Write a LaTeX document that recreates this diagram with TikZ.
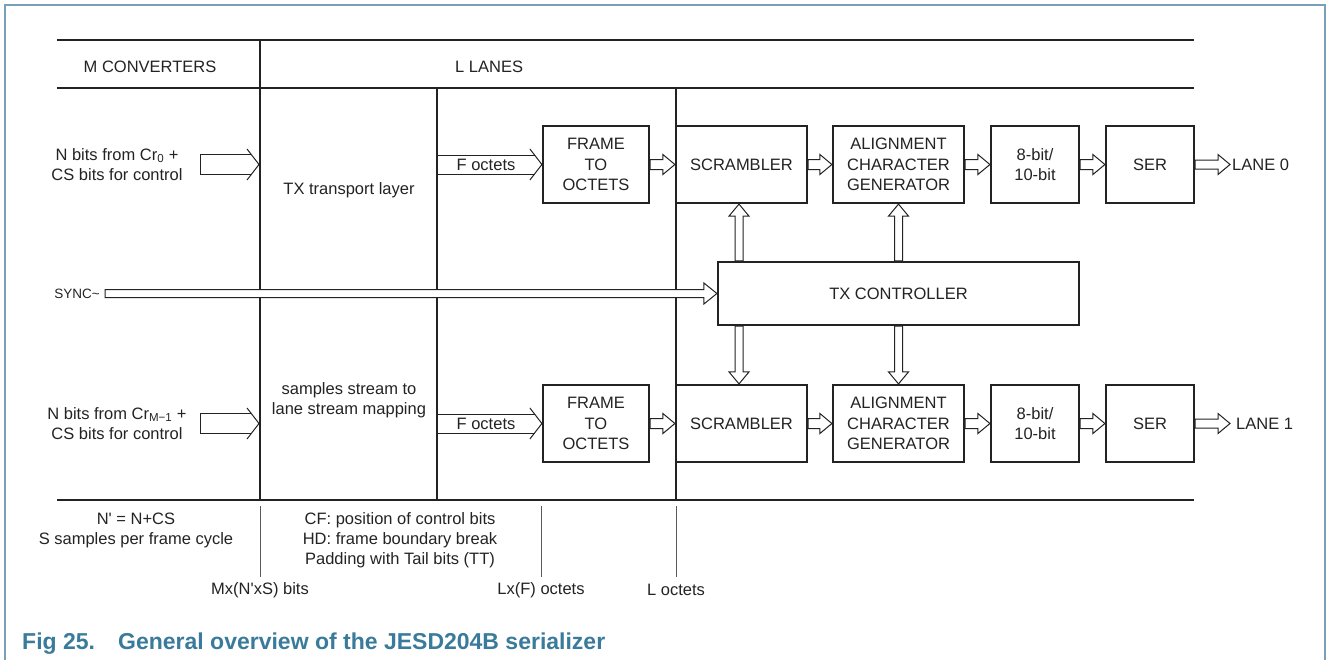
\documentclass[tikz,border=0pt]{standalone}
\usepackage{fontspec}
\newfontfamily\lsans{Liberation Sans}
\usetikzlibrary{calc}
\definecolor{ink}{RGB}{35,35,35}
\definecolor{framec}{RGB}{120,160,185}
\definecolor{capc}{RGB}{58,122,155}
\pgfdeclarelayer{rules}
\pgfdeclarelayer{arrs}
\pgfsetlayers{rules,arrs,main}
\tikzset{
  lbl/.style={font=\lsans\fontsize{16.5}{20}\selectfont, text=ink, inner sep=0pt, align=center},
  lblsmall/.style={font=\lsans\fontsize{13.5}{16}\selectfont, text=ink, inner sep=0pt},
  blk/.style={draw=ink, line width=2.2pt, fill=white, inner sep=0pt, align=center,
              font=\lsans\fontsize{16.5}{20.5}\selectfont, text=ink},
  rule/.style={draw=ink, line width=1.8pt},
  tickl/.style={draw=ink!75, line width=1pt},
  harr/.style={draw=ink, line width=1pt, fill=white, line join=miter},
  harrline/.style={draw=ink, line width=1pt, line join=miter},
  capt/.style={font=\lsans\bfseries\fontsize{23}{27}\selectfont, text=capc, inner sep=0pt},
}
% hollow arrow: from, to, body half width, head half width, head length
\newcommand{\hollowarr}[5]{%
  \coordinate (hA) at (#1);
  \coordinate (hB) at (#2);
  \coordinate (hH) at ($(hB)!#5!(hA)$);
  \path[harr] ($(hA)!#3!90:(hB)$) -- ($(hH)!#3!-90:(hA)$) -- ($(hH)!#4!-90:(hA)$)
     -- (hB) -- ($(hH)!#4!90:(hA)$) -- ($(hH)!#3!90:(hA)$) -- ($(hA)!#3!-90:(hB)$) -- cycle;}
% wide arrow with open chevron head: from, to, body half, head half, head length, body end from tip
\newcommand{\chevarr}[6]{%
  \coordinate (hA) at (#1);
  \coordinate (hB) at (#2);
  \coordinate (hH) at ($(hB)!#5!(hA)$);
  \coordinate (hE) at ($(hB)!#6!(hA)$);
  \path[harr] ($(hE)!#3!-90:(hA)$) -- ($(hA)!#3!90:(hB)$) -- ($(hA)!#3!-90:(hB)$) -- ($(hE)!#3!90:(hA)$);
  \path[harrline] ($(hH)!#4!-90:(hA)$) -- (hB) -- ($(hH)!#4!90:(hA)$);}
\begin{document}
\begin{tikzpicture}[x=1pt,y=-1pt]
\useasboundingbox (0,0) rectangle (1327,659);
% outer frame
\draw[framec, line width=1.3pt] (5,670) -- (5,5) -- (1325,5) -- (1325,670);

% blocks, lane 0
\node[blk, minimum width=106pt, minimum height=77pt] (f0) at (596,164.5) {FRAME\\TO\\OCTETS};
\node[blk, minimum width=131pt, minimum height=77pt] (s0) at (741.5,164.5) {SCRAMBLER};
\node[blk, minimum width=131pt, minimum height=77pt] (a0) at (898.5,164.5) {ALIGNMENT\\CHARACTER\\GENERATOR};
\node[blk, minimum width=88pt, minimum height=77pt] (e0) at (1035,164.5) {8-bit/\\10-bit};
\node[blk, minimum width=88pt, minimum height=77pt] (r0) at (1150,164.5) {SER};
% controller
\node[blk, minimum width=361pt, minimum height=63pt] (tx) at (898.5,293.5) {TX CONTROLLER};
% blocks, lane 1
\node[blk, minimum width=106pt, minimum height=77pt] (f1) at (596,423.5) {FRAME\\TO\\OCTETS};
\node[blk, minimum width=131pt, minimum height=77pt] (s1) at (741.5,423.5) {SCRAMBLER};
\node[blk, minimum width=131pt, minimum height=77pt] (a1) at (898.5,423.5) {ALIGNMENT\\CHARACTER\\GENERATOR};
\node[blk, minimum width=88pt, minimum height=77pt] (e1) at (1035,423.5) {8-bit/\\10-bit};
\node[blk, minimum width=88pt, minimum height=77pt] (r1) at (1150,423.5) {SER};

% labels
\node[lbl] (mconv) at (150,67) {M CONVERTERS};
\node[lbl, anchor=west] (llanes) at (455,67) {L LANES};
\node[lbl] (nb0) at (117,164.5) {N bits from Cr\textsubscript{0} +\\CS bits for control};
\node[lbl] (nb1) at (117,423.5) {N bits from Cr\textsubscript{M−1} +\\CS bits for control};
\node[lbl] (txt) at (349,190) {TX transport layer};
\node[lbl] (smp) at (349,400) {samples stream to\\lane stream mapping};
\node[lbl] (fo0) at (486,164.5) {F octets};
\node[lbl] (fo1) at (486,423.5) {F octets};
\node[lblsmall, anchor=east] (synclbl) at (100,293.5) {SYNC\textasciitilde};
\node[lbl] (np) at (136,530) {N' = N+CS\\S samples per frame cycle};
\node[lbl] (cf) at (400,540) {CF: position of control bits\\HD: frame boundary break\\Padding with Tail bits (TT)};
\node[lbl] (mx) at (260,590) {Mx(N'xS) bits};
\node[lbl] (lx) at (541,590) {Lx(F) octets};
\node[lbl] (lo) at (676,590) {L octets};
\coordinate (lane0) at (1230,164.5);
\coordinate (lane1) at (1230,423.5);
\node[lbl, anchor=west] (lane0t) at (1232,164.5) {LANE 0};
\node[lbl, anchor=west] (lane1t) at (1236,423.5) {LANE 1};
% caption
\node[capt, anchor=base west] (fig) at (22,649) {Fig 25.};
\node[capt, anchor=base west] (figt) at (118,649) {General overview of the JESD204B serializer};

% structural rules
\begin{pgfonlayer}{rules}
\draw[rule] (57,40) -- (1194,40);
\draw[rule] (57,88) -- (1194,88);
\draw[rule] (57,500) -- (1194,500);
\draw[rule] (260,40) -- (260,500);
\draw[rule] (437,88) -- (437,500);
\draw[rule] (676,88) -- (676,500);
\draw[tickl] (260,506) -- (260,577);
\draw[tickl] (541,506) -- (541,577);
\draw[tickl] (676,506) -- (676,577);
\end{pgfonlayer}

% connectors
\begin{pgfonlayer}{arrs}
\coordinate (in0) at (200,164.5);
\coordinate (tl0) at (259,164.5);
\coordinate (in1) at (200,423.5);
\coordinate (tl1) at (259,423.5);
\coordinate (ll0) at (437,164.5);
\coordinate (ll1) at (437,423.5);
\chevarr{in0}{tl0}{10pt}{15.5pt}{12pt}{7.7pt}
\chevarr{in1}{tl1}{10pt}{15.5pt}{12pt}{7.7pt}
\chevarr{ll0}{f0.west}{9.5pt}{15.5pt}{12pt}{7.4pt}
\chevarr{ll1}{f1.west}{9.5pt}{15.5pt}{12pt}{7.4pt}

\hollowarr{f0.east}{s0.west}{5pt}{10pt}{12pt}
\hollowarr{s0.east}{a0.west}{5pt}{10pt}{12pt}
\hollowarr{a0.east}{e0.west}{5pt}{10pt}{12pt}
\hollowarr{e0.east}{r0.west}{5pt}{10pt}{12pt}
\hollowarr{r0.east}{lane0}{4.5pt}{10pt}{12pt}
\hollowarr{f1.east}{s1.west}{5pt}{10pt}{12pt}
\hollowarr{s1.east}{a1.west}{5pt}{10pt}{12pt}
\hollowarr{a1.east}{e1.west}{5pt}{10pt}{12pt}
\hollowarr{e1.east}{r1.west}{5pt}{10pt}{12pt}
\hollowarr{r1.east}{lane1}{4.5pt}{10pt}{12pt}

\coordinate (sync) at (105,293.5);
\hollowarr{sync}{tx.west}{4pt}{10.5pt}{13pt}

\coordinate (cs0) at ([xshift=-2.5pt]s0.south);
\coordinate (ct0) at (cs0 |- tx.north);
\hollowarr{ct0}{cs0}{4pt}{10pt}{12pt}
\coordinate (cs1) at ([xshift=-2.5pt]s1.north);
\coordinate (cb0) at (cs1 |- tx.south);
\hollowarr{cb0}{cs1}{4pt}{10pt}{12pt}
\coordinate (ca0) at (a0.south |- tx.north);
\hollowarr{ca0}{a0.south}{4pt}{10pt}{12pt}
\coordinate (ca1) at (a1.north |- tx.south);
\hollowarr{ca1}{a1.north}{4pt}{10pt}{12pt}
\end{pgfonlayer}
\end{tikzpicture}
\end{document}
